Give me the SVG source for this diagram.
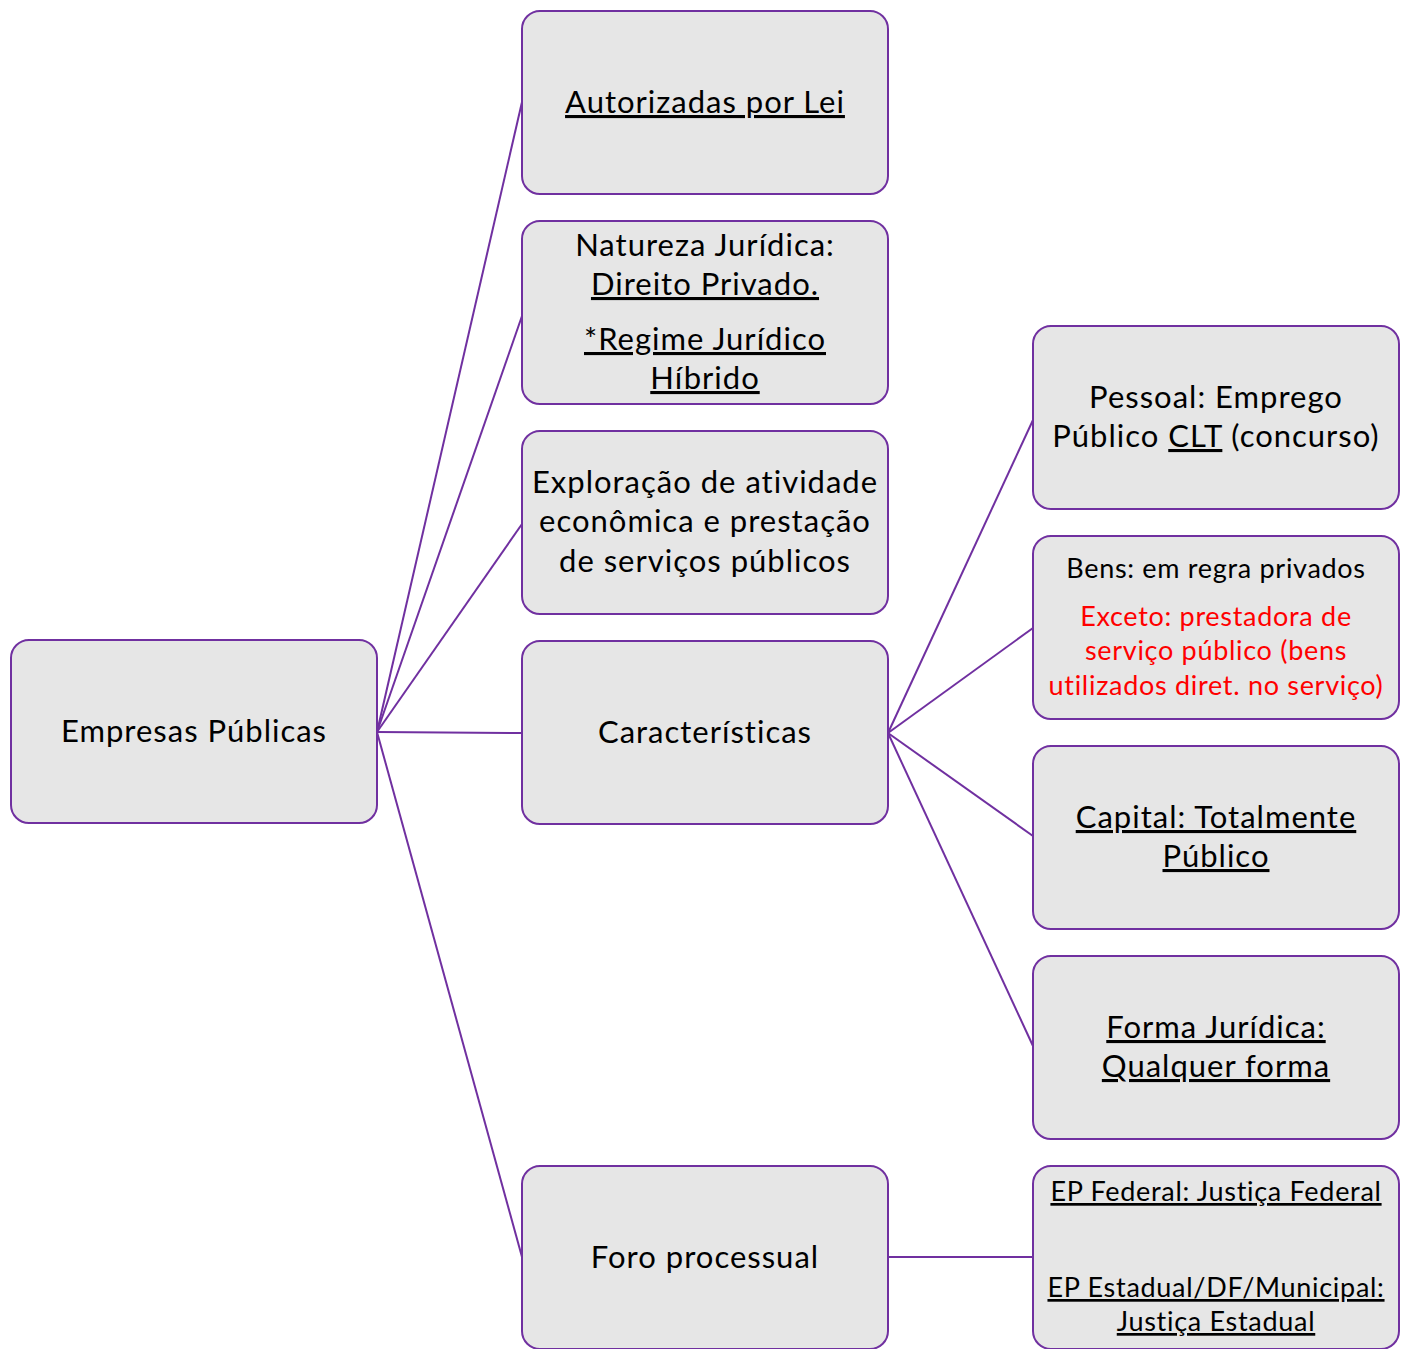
<svg xmlns="http://www.w3.org/2000/svg" width="1406" height="1349" viewBox="0 0 1406 1349">
<style>
.box{fill:#e6e6e6;stroke:#7030a0;stroke-width:2}
.lnk{stroke:#7030a0;stroke-width:2;fill:none}
text{font-family:Lato,"Noto Sans","Liberation Sans",sans-serif;font-size:31px;letter-spacing:1px;fill:#000;text-anchor:middle}
.s{font-size:27px;letter-spacing:0.7px}
.r{fill:#ff0000}
.u{text-decoration:underline}
</style>
<rect width="1406" height="1349" fill="#fff"/>
<g id="connectors">
<line class="lnk" x1="377" y1="732" x2="522" y2="102"/>
<line class="lnk" x1="377" y1="732" x2="522" y2="316"/>
<line class="lnk" x1="377" y1="732" x2="522" y2="524"/>
<line class="lnk" x1="377" y1="732" x2="522" y2="733"/>
<line class="lnk" x1="377" y1="732" x2="522" y2="1257"/>
<line class="lnk" x1="888" y1="733" x2="1033" y2="420"/>
<line class="lnk" x1="888" y1="733" x2="1033" y2="628"/>
<line class="lnk" x1="888" y1="733" x2="1033" y2="836"/>
<line class="lnk" x1="888" y1="733" x2="1033" y2="1046"/>
<line class="lnk" x1="888" y1="1257" x2="1033" y2="1257"/>
</g>
<g id="n-root"><rect class="box" x="11" y="640" width="366" height="183" rx="18"/><text x="194" y="742">Empresas Públicas</text></g>
<g id="n-autorizadas"><rect class="box" x="522" y="11" width="366" height="183" rx="18"/><text class="u" x="705" y="113">Autorizadas por Lei</text></g>
<g id="n-natureza"><rect class="box" x="522" y="221" width="366" height="183" rx="18"/>
<text x="705" y="256">Natureza Jurídica:</text>
<text class="u" x="705" y="295">Direito Privado.</text>
<text class="u" x="705" y="350">*Regime Jurídico</text>
<text class="u" x="705" y="389">Híbrido</text></g>
<g id="n-exploracao"><rect class="box" x="522" y="431" width="366" height="183" rx="18"/>
<text x="705" y="493">Exploração de atividade</text>
<text x="705" y="532">econômica e prestação</text>
<text x="705" y="572">de serviços públicos</text></g>
<g id="n-caracteristicas"><rect class="box" x="522" y="641" width="366" height="183" rx="18"/><text x="705" y="743">Características</text></g>
<g id="n-foro"><rect class="box" x="522" y="1166" width="366" height="183" rx="18"/><text x="705" y="1268">Foro processual</text></g>
<g id="n-pessoal"><rect class="box" x="1033" y="326" width="366" height="183" rx="18"/>
<text x="1216" y="408">Pessoal: Emprego</text>
<text x="1216" y="447">Público <tspan class="u">CLT</tspan> (concurso)</text></g>
<g id="n-bens"><rect class="box" x="1033" y="536" width="366" height="183" rx="18"/>
<text class="s" x="1216" y="578">Bens: em regra privados</text>
<text class="s r" x="1216" y="626">Exceto: prestadora de</text>
<text class="s r" x="1216" y="660">serviço público (bens</text>
<text class="s r" x="1216" y="695">utilizados diret. no serviço)</text></g>
<g id="n-capital"><rect class="box" x="1033" y="746" width="366" height="183" rx="18"/>
<text class="u" x="1216" y="828">Capital: Totalmente</text>
<text class="u" x="1216" y="867">Público</text></g>
<g id="n-forma"><rect class="box" x="1033" y="956" width="366" height="183" rx="18"/>
<text class="u" x="1216" y="1038">Forma Jurídica:</text>
<text class="u" x="1216" y="1077">Qualquer forma</text></g>
<g id="n-foro-det"><rect class="box" x="1033" y="1166" width="366" height="183" rx="18"/>
<text class="s u" x="1216" y="1201">EP Federal: Justiça Federal</text>
<text class="s u" x="1216" y="1297">EP Estadual/DF/Municipal:</text>
<text class="s u" x="1216" y="1331">Justiça Estadual</text></g>
</svg>
